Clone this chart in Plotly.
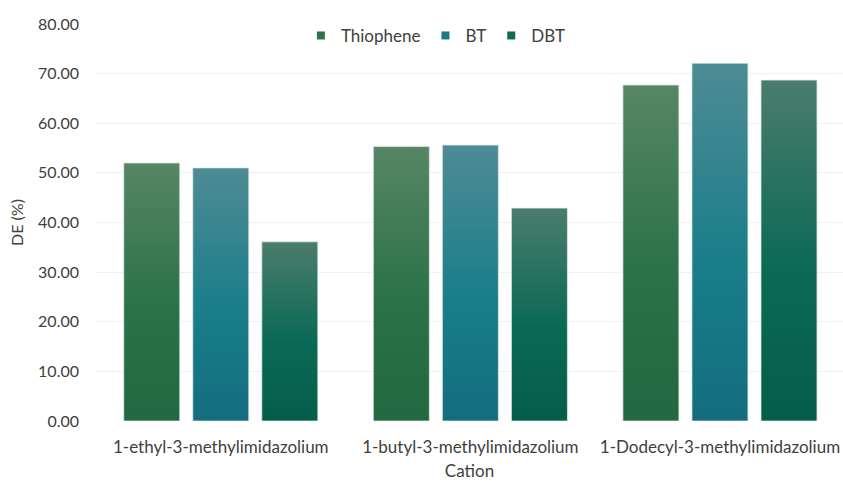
import plotly.graph_objects as go

# Desulfurization efficiency by imidazolium cation
cations = ["1-ethyl-3-methylimidazolium", "1-butyl-3-methylimidazolium",
           "1-Dodecyl-3-methylimidazolium"]
series_names = ["Thiophene", "BT", "DBT"]
thiophene = [52.0, 55.3, 67.7]
bt = [51.0, 55.6, 72.1]
dbt = [36.1, 42.9, 68.7]
y_ticks = [0, 10, 20, 30, 40, 50, 60, 70, 80]

series_values = [thiophene, bt, dbt]
# (bottom, middle, top) colours of each series' vertical gradient
gradients = [
    ("#226840", "#2b7248", "#578665"),
    ("#136d7f", "#1a7e89", "#4e8b95"),
    ("#045d4a", "#0b6a55", "#4b7c6d"),
]
legend_colors = ["#2e734a", "#1b7b88", "#0d6a55"]

BAR_STEP = 0.2766   # distance between neighbouring bars in a group
BAR_WIDTH = 0.2244

FONT = "Lato"
TEXT = "#404040"

fig = go.Figure()

for s, (name, vals) in enumerate(zip(series_names, series_values)):
    bottom, mid, top = gradients[s]
    for g, v in enumerate(vals):
        xc = g + (s - 1) * BAR_STEP
        x0, x1 = xc - BAR_WIDTH / 2, xc + BAR_WIDTH / 2
        fig.add_trace(go.Scatter(
            x=[x0, x0, x1, x1, x0],
            y=[0, v, v, 0, 0],
            mode="lines",
            fill="toself",
            fillgradient=dict(type="vertical",
                              colorscale=[[0, bottom], [0.45, mid], [1, top]]),
            line=dict(color="rgba(220,235,228,0.75)", width=1),
            name=name,
            showlegend=False,
            hoverinfo="text",
            text=f"{cations[g]}<br>{name}: {v:.2f}",
        ))
    # legend entry
    fig.add_trace(go.Scatter(
        x=[None], y=[None], mode="markers", name=name,
        marker=dict(symbol="square", size=8, color=legend_colors[s]),
    ))

fig.update_layout(
    width=843, height=481,
    margin=dict(l=96, r=0, t=24, b=60),
    paper_bgcolor="white", plot_bgcolor="white",
    font=dict(family=FONT, size=16, color=TEXT),
    showlegend=True,
    legend=dict(orientation="h", x=0.455, xanchor="center",
                y=0.97, yanchor="middle",
                font=dict(family=FONT, size=17, color=TEXT),
                itemwidth=30, bgcolor="rgba(0,0,0,0)"),
    xaxis=dict(
        range=[-0.5, 2.493], automargin=False,
        tickmode="array", tickvals=[0, 1, 2], ticktext=cations,
        tickfont=dict(family=FONT, size=17, color=TEXT),
        ticklabeloverflow="allow",
        showgrid=False, zeroline=False, showline=False,
        ticks="", ticklabelstandoff=14,
        title=dict(text="Cation", standoff=14,
                   font=dict(family=FONT, size=17, color=TEXT)),
    ),
    yaxis=dict(
        range=[0, 80], automargin=False,
        tickmode="array", tickvals=y_ticks, tickformat=".2f",
        tickfont=dict(family=FONT, size=16, color=TEXT),
        showgrid=True, gridcolor="#f0f0f0", gridwidth=1,
        zeroline=False, showline=False, ticks="",
        ticklabelstandoff=16,
        title=dict(text="DE (%)", standoff=10,
                   font=dict(family=FONT, size=16, color=TEXT)),
    ),
)

fig.write_html("out.html")
